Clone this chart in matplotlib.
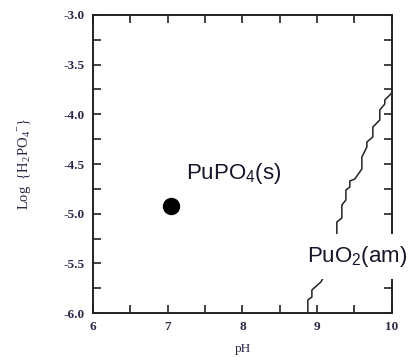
import numpy as np
import matplotlib
matplotlib.use('Agg')
from matplotlib import pyplot as plt
from matplotlib.ticker import MultipleLocator

# boundary PuPO4(s) / PuO2(am) (staircase)
boundary_ph = [8.876, 8.876, 8.930, 8.930, 9.050, 9.104, 9.104, 9.157, 9.157, 9.211,
               9.264, 9.264, 9.331, 9.331, 9.385, 9.385, 9.438, 9.438, 9.505, 9.599,
               9.599, 9.666, 9.666, 9.746, 9.746, 9.839, 9.839, 9.906, 9.906, 9.973, 10.0]
boundary_log = [-6.0, -5.869, -5.839, -5.768, -5.688, -5.617, -5.517, -5.466, -5.366, -5.315,
                -5.215, -5.084, -5.044, -4.913, -4.862, -4.762, -4.732, -4.671, -4.651, -4.550,
                -4.430, -4.329, -4.279, -4.228, -4.128, -4.057, -3.956, -3.896, -3.856, -3.805, -3.785]

# measured point
point_ph = [7.05]
point_log = [-4.92]

x_ticks = [6, 7, 8, 9, 10]
y_ticks = [-6.0, -5.5, -5.0, -4.5, -4.0, -3.5, -3.0]

tick_col = '#2a2a48'
serif = ['Liberation Serif', 'DejaVu Serif']
sans = ['Liberation Sans', 'DejaVu Sans']

fig = plt.figure(figsize=(4.09, 3.57), dpi=100)
ax = fig.add_axes([0.2274, 0.1232, 0.7306, 0.8348])

ax.plot(boundary_ph, boundary_log, color='#222222', lw=1.1, zorder=2)
ax.plot(point_ph, point_log, 'o', color='black', markersize=11.5, zorder=3)

ax.set_xlim(6, 10)
ax.set_ylim(-6.0, -3.0)
ax.set_xticks(x_ticks)
ax.set_yticks(y_ticks)
ax.set_xticklabels([str(v) for v in x_ticks], family=serif, fontsize=9.5, color=tick_col,
                   weight='bold')
ax.set_yticklabels(['%.1f' % v for v in y_ticks], family=serif, fontsize=9.5, color=tick_col,
                   weight='bold')
ax.xaxis.set_minor_locator(MultipleLocator(0.5))
ax.yaxis.set_minor_locator(MultipleLocator(0.25))
ax.tick_params(which='both', direction='in', top=True, right=True, length=6, width=1.2,
               color='#222222')
ax.tick_params(axis='x', pad=6)
ax.tick_params(axis='y', pad=6)
for s in ax.spines.values():
    s.set_linewidth(1.4)
    s.set_color('#222222')

ax.set_xlabel('pH', family=serif, fontsize=9.5, color=tick_col, labelpad=7)
ax.set_ylabel(r'Log  {H$_\mathregular{2}$PO$_\mathregular{4}$$^\mathregular{-}$}', family=serif,
              fontsize=10.5, color=tick_col, labelpad=22)

ax.text(7.24, -4.6, r'PuPO$_\mathregular{4}$(s)', family=sans, fontsize=16, color='#15152a',
        va='center', ha='left', zorder=4)
ax.text(8.86, -5.43, r'PuO$_\mathregular{2}$(am)', family=sans, fontsize=16, color='#15152a',
        va='center', ha='left', zorder=5, clip_on=False,
        bbox=dict(facecolor='white', edgecolor='none', boxstyle='square,pad=0.45'))

fig.savefig('out.png', dpi=100)
